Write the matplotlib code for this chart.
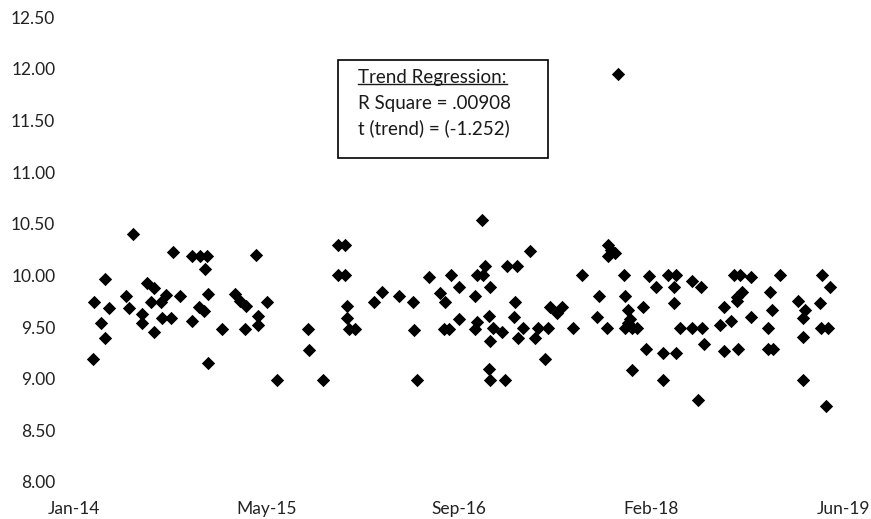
import matplotlib
matplotlib.use('Agg')
import numpy as np
import pandas as pd
import matplotlib.pyplot as plt
import matplotlib.dates as mdates
from matplotlib.patches import Rectangle
from matplotlib.lines import Line2D

plt.rcParams['font.family'] = ['Lato', 'DejaVu Sans']

# Observation dates and values
dates = [
    "2014-02-19", "2014-02-22", "2014-03-13", "2014-03-22", "2014-03-22", "2014-04-01",
    "2014-05-16", "2014-05-25", "2014-06-03", "2014-06-28", "2014-06-28", "2014-07-10",
    "2014-07-19", "2014-07-28", "2014-07-28", "2014-08-16", "2014-08-19", "2014-08-28",
    "2014-09-10", "2014-09-16", "2014-10-04", "2014-11-04", "2014-11-04", "2014-11-22",
    "2014-11-25", "2014-12-04", "2014-12-07", "2014-12-13", "2014-12-16", "2014-12-16",
    "2015-01-22", "2015-02-25", "2015-03-10", "2015-03-22", "2015-03-25", "2015-04-19",
    "2015-04-25", "2015-04-25", "2015-05-19", "2015-06-13", "2015-09-01", "2015-09-04",
    "2015-10-10", "2015-11-19", "2015-12-07", "2015-11-19", "2015-12-07", "2015-12-13",
    "2015-12-13", "2015-12-16", "2016-01-01", "2016-02-19", "2016-03-13", "2016-04-25",
    "2016-06-01", "2016-06-04", "2016-06-10", "2016-07-13", "2016-08-10", "2016-08-19",
    "2016-08-22", "2016-09-01", "2016-09-07", "2016-09-28", "2016-09-28", "2016-11-10",
    "2016-11-10", "2016-11-13", "2016-11-13", "2016-11-28", "2016-12-01", "2016-12-04",
    "2016-12-16", "2016-12-16", "2016-12-19", "2016-12-19", "2016-12-19", "2016-12-25",
    "2017-01-19", "2017-01-25", "2017-02-01", "2017-02-19", "2017-02-22", "2017-02-25",
    "2017-03-01", "2017-03-13", "2017-04-01", "2017-04-13", "2017-04-22", "2017-05-10",
    "2017-05-19", "2017-05-22", "2017-06-10", "2017-06-22", "2017-07-22", "2017-08-13",
    "2017-09-22", "2017-09-28", "2017-10-19", "2017-10-22", "2017-10-28", "2017-11-07",
    "2017-10-22", "2017-11-16", "2017-12-01", "2017-12-04", "2017-12-04", "2017-12-13",
    "2017-12-13", "2017-12-16", "2017-12-22", "2017-12-22", "2018-01-04", "2018-01-19",
    "2018-01-28", "2018-02-04", "2018-02-22", "2018-03-13", "2018-03-13", "2018-03-25",
    "2018-04-10", "2018-04-10", "2018-04-16", "2018-04-16", "2018-04-25", "2018-05-28",
    "2018-05-28", "2018-06-13", "2018-06-19", "2018-06-22", "2018-06-28", "2018-08-07",
    "2018-08-19", "2018-08-19", "2018-09-07", "2018-09-13", "2018-09-28", "2018-09-22",
    "2018-09-22", "2018-09-25", "2018-10-04", "2018-10-28", "2018-10-28", "2018-12-10",
    "2018-12-10", "2018-12-16", "2018-12-22", "2018-12-25", "2019-01-10", "2019-02-27",
    "2019-03-13", "2019-03-13", "2019-03-13", "2019-03-16", "2019-04-25", "2019-04-28",
    "2019-05-01", "2019-05-10", "2019-05-16", "2019-05-22",
]
values = [
    9.19, 9.74, 9.54, 9.96, 9.39, 9.68,
    9.80, 9.68, 10.40, 9.63, 9.54, 9.93,
    9.74, 9.88, 9.45, 9.74, 9.59, 9.81,
    9.59, 10.23, 9.80, 10.19, 9.56, 9.69,
    10.19, 9.65, 10.06, 10.19, 9.82, 9.15,
    9.48, 9.82, 9.75, 9.48, 9.70, 10.20,
    9.61, 9.52, 9.74, 8.99, 9.48, 9.28,
    8.99, 10.29, 10.29, 10.00, 10.00, 9.70,
    9.59, 9.48, 9.48, 9.74, 9.84, 9.80,
    9.74, 9.47, 8.99, 9.98, 9.83, 9.48,
    9.74, 9.48, 10.00, 9.89, 9.58, 9.80,
    9.48, 10.00, 9.55, 10.54, 10.00, 10.09,
    9.61, 9.09, 9.89, 9.36, 8.99, 9.49,
    9.45, 8.99, 10.09, 9.60, 9.74, 10.09,
    9.39, 9.49, 10.24, 9.39, 9.49, 9.19,
    9.49, 9.69, 9.64, 9.69, 9.49, 10.00,
    9.60, 9.80, 9.49, 10.29, 10.25, 10.22,
    10.19, 11.95, 10.00, 9.80, 9.49, 9.66,
    9.54, 9.58, 9.49, 9.08, 9.49, 9.69,
    9.29, 9.99, 9.89, 9.25, 8.99, 10.00,
    9.89, 9.73, 10.00, 9.25, 9.49, 9.95,
    9.49, 8.79, 9.89, 9.49, 9.34, 9.52,
    9.69, 9.27, 9.56, 10.00, 10.00, 9.79,
    9.75, 9.29, 9.84, 9.98, 9.60, 9.49,
    9.29, 9.84, 9.66, 9.29, 10.00, 9.75,
    9.59, 9.40, 8.99, 9.66, 9.73, 9.49,
    10.00, 8.74, 9.49, 9.89,
]

# Axis ticks every 500 days from the start date
x_start = pd.Timestamp("2014-01-01")
tick_step_days = 500
n_ticks = 5
y_ticks = [8.00, 8.50, 9.00, 9.50, 10.00, 10.50, 11.00, 11.50, 12.00, 12.50]

x = pd.to_datetime(dates)

fig = plt.figure(figsize=(8.71, 5.19), dpi=100)
ax = fig.add_axes([74 / 871, 37 / 519, 769 / 871, 465 / 519])

ax.scatter(x, values, marker='D', s=46, color='black', linewidths=0)

ticks = [x_start + pd.Timedelta(days=tick_step_days * i) for i in range(n_ticks)]
ax.set_xlim(ticks[0], ticks[-1])
ax.set_xticks(ticks)
ax.xaxis.set_major_formatter(mdates.DateFormatter('%b-%y'))
ax.set_ylim(8.0, 12.5)
ax.set_yticks(y_ticks)
ax.set_yticklabels([f"{v:.2f}" for v in y_ticks])

for s in ax.spines.values():
    s.set_visible(False)
ax.tick_params(axis='both', length=0, labelsize=12.5, colors='#222222')
ax.tick_params(axis='y', pad=13.5)
ax.tick_params(axis='x', pad=14)

# Regression summary box
fig.patches.append(Rectangle((338 / 871, 1 - 158 / 519), 210 / 871, 98 / 519,
                             transform=fig.transFigure, facecolor='white',
                             edgecolor='black', linewidth=1.2))
tx = 358 / 871
box_fs = 13.5
title = fig.text(tx, 1 - 78 / 519, "Trend Regression:", fontsize=box_fs, va='center', color='#1a1a1a')
fig.text(tx, 1 - 103 / 519, "R Square = .00908", fontsize=box_fs, va='center', color='#1a1a1a')
fig.text(tx, 1 - 128 / 519, "t (trend) = (-1.252)", fontsize=box_fs, va='center', color='#1a1a1a')

fig.canvas.draw()
bb = title.get_window_extent().transformed(fig.transFigure.inverted())
fig.lines.append(Line2D([bb.x0, bb.x1], [bb.y0 + 0.005, bb.y0 + 0.005],
                        transform=fig.transFigure, color='#1a1a1a', linewidth=1))

fig.savefig('out.png', dpi=100)
